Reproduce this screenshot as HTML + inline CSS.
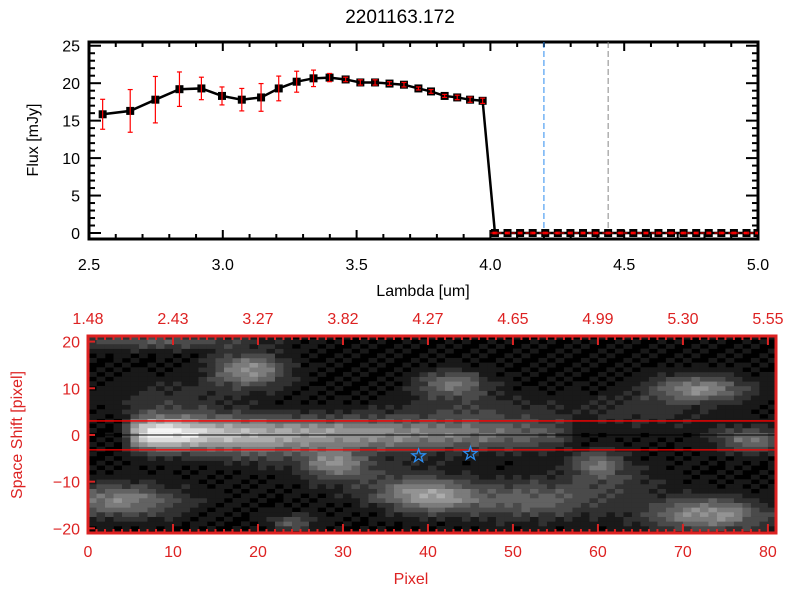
<!DOCTYPE html>
<html><head><meta charset="utf-8"><style>
body{margin:0;background:#fff;width:800px;height:600px;overflow:hidden}
svg{display:block;font-family:"Liberation Sans",sans-serif}
</style></head><body>
<svg id="c" width="800" height="600"></svg>
<script>
const lambdas=[2.551,2.654,2.748,2.838,2.92,2.997,3.071,3.143,3.209,3.276,3.339,3.399,3.459,3.514,3.569,3.623,3.677,3.731,3.778,3.829,3.876,3.924,3.971,4.017,4.064,4.111,4.158,4.205,4.252,4.299,4.346,4.393,4.44,4.487,4.534,4.581,4.628,4.675,4.722,4.769,4.816,4.863,4.910,4.957,4.998];
const flux=[15.85,16.3,17.8,19.2,19.3,18.3,17.8,18.1,19.3,20.2,20.65,20.75,20.5,20.1,20.1,19.95,19.8,19.3,18.9,18.3,18.1,17.8,17.65,0,0,0,0,0,0,0,0,0,0,0,0,0,0,0,0,0,0,0,0,0,0];
const fluxErr=[2.0,2.85,3.1,2.3,1.5,1.2,1.5,1.85,1.65,1.4,1.1,0.55,0.3,0.35,0.35,0.25,0.3,0.2,0.25,0.2,0.3,0.35,0.35,0.1,0.1,0.1,0.1,0.1,0.1,0.1,0.1,0.1,0.1,0.1,0.1,0.1,0.1,0.1,0.1,0.1,0.1,0.1,0.1,0.1,0.1];
const xTicks=[2.5,3.0,3.5,4.0,4.5,5.0];
const xTickLabels=["2.5","3.0","3.5","4.0","4.5","5.0"];
const yTicks=[0,5,10,15,20,25];
const vLines=[4.2,4.44];
const pixTicks=[0,10,20,30,40,50,60,70,80];
const topLamLabels=["1.48","2.43","3.27","3.82","4.27","4.65","4.99","5.30","5.55"];
const shiftTicks=[20,10,0,-10,-20];
const starsX=[38.9,45.0];
const starsY=[-4.5,-4.0];
const apertureY=[3,-3.2];
// trace brightness along x
const traceX=[4,5,7,9,12,15,20,25,30,35,40,45,50,55,58];
const traceAmp=[0,0.55,0.95,1.0,0.9,0.75,0.68,0.62,0.58,0.55,0.5,0.45,0.38,0.28,0];
// blobs
const blobX=[19,43,72,29,60,4,40,52,73,78,24,8,10,45,65,33,20,62];
const blobY=[14,11,10,-6,-6,-14,-13,-14,-17,-1,-19,20,8,6,5,-9,-4,-10];
const blobA=[0.55,0.42,0.5,0.45,0.4,0.5,0.55,0.35,0.55,0.42,0.28,0.3,0.15,0.15,0.15,0.15,0.15,0.15];
const blobSX=[3,3,4,2.5,2,5,4,6,5,3,2,8,6,6,6,6,4,5];
const blobSY=[2.5,2,2,2,2,2.5,2.5,3,2.5,2,1.5,1.2,3,2,3,3,2,3];

const S=document.getElementById('c');const NS='http://www.w3.org/2000/svg';
function mk(t,a,p){const e=document.createElementNS(NS,t);for(const k in a)e.setAttribute(k,a[k]);(p||S).appendChild(e);return e;}
function txt(s,x,y,a,p){const e=mk('text',Object.assign({x:x,y:y},a),p);e.textContent=s;return e;}
const L=89,R=758,T=42,B=239;const X0=2.5,X1=5.0,Y0=-0.8,Y1=25.5;
const sx=v=>L+(v-X0)/(X1-X0)*(R-L);const sy=v=>B-(v-Y0)/(Y1-Y0)*(B-T);
const topG=mk('g',{});


const ttl=txt('2201163.172',400,23,{'font-size':19,'text-anchor':'middle'});

const ax=mk('g',{stroke:'#000','stroke-width':2},topG);

for(let v=2.5;v<=5.0001;v+=0.1){const maj=Math.abs(v*2-Math.round(v*2))<1e-6;const l=maj?9:5;
mk('line',{x1:sx(v),x2:sx(v),y1:B,y2:B-l},ax);mk('line',{x1:sx(v),x2:sx(v),y1:T,y2:T+l},ax);}
for(let v=0;v<=25;v++){const maj=v%5==0;const l=maj?12:6;
mk('line',{x1:L,x2:L+l,y1:sy(v),y2:sy(v)},ax);mk('line',{x1:R,x2:R-l,y1:sy(v),y2:sy(v)},ax);}
mk('rect',{x:L,y:T,width:R-L,height:B-T,fill:'none','stroke-width':3},ax);
xTicks.forEach((v,i)=>{const e=txt(xTickLabels[i],sx(v),270,{'font-size':16,'text-anchor':'middle'},topG);});
yTicks.forEach(v=>{const e=txt(String(v),80,sy(v)+6,{'font-size':16,'text-anchor':'end'},topG);});
let e1=txt('Lambda [um]',423,296,{'font-size':16,'text-anchor':'middle'},topG);
let e2=txt('Flux [mJy]',38,140,{'font-size':16,'text-anchor':'middle',transform:'rotate(-90 38 140)'},topG);
const cl=mk('clipPath',{id:'cp'});mk('rect',{x:L,y:T,width:R-L,height:B-T-1.5},cl);
const pg=mk('g',{'clip-path':'url(#cp)'},topG);
vLines.forEach((v,i)=>{const e=mk('line',{x1:sx(v),x2:sx(v),y1:T,y2:B,stroke:i?'#888':'#2b8cf0','stroke-width':1,'stroke-dasharray':'6 3'},pg);});
const ln=mk('polyline',{points:lambdas.map((v,i)=>sx(v)+','+sy(flux[i])).join(' '),fill:'none',stroke:'#000','stroke-width':2.5},pg);

lambdas.forEach((v,i)=>{const m=mk('rect',{x:sx(v)-4,y:sy(flux[i])-4,width:8,height:8,fill:'#000'},pg);
const g=mk('g',{stroke:'#f00','stroke-width':1.2},pg);
const a=sy(flux[i]+fluxErr[i]),b=sy(flux[i]-fluxErr[i]);mk('line',{x1:sx(v),x2:sx(v),y1:a,y2:b},g);mk('line',{x1:sx(v)-2.5,x2:sx(v)+2.5,y1:a,y2:a},g);mk('line',{x1:sx(v)-2.5,x2:sx(v)+2.5,y1:b,y2:b},g);});
const zl=mk('line',{x1:sx(4.0),x2:R,y1:sy(0),y2:sy(0),stroke:'#f00','stroke-width':1,'stroke-dasharray':'4 3'},pg);

const L2=88,R2=776,T2=336,B2=533,P0=0,P1=80.95,S0=-21,S1=21.2;
const px=v=>L2+(v-P0)/(P1-P0)*(R2-L2);const py=v=>B2-(v-S0)/(S1-S0)*(B2-T2);
const bot=mk('g',{});
const img=mk('g',{},bot);
mk('rect',{x:L2,y:T2,width:R2-L2,height:B2-T2,fill:'#000'},img);
function traceAt(x){for(let i=0;i<traceX.length-1;i++){if(x>=traceX[i]&&x<=traceX[i+1]){const f=(x-traceX[i])/(traceX[i+1]-traceX[i]);return traceAmp[i]+f*(traceAmp[i+1]-traceAmp[i]);}}return 0;}
for(let c=0;c<81;c++)for(let r=-21;r<=21;r++){let v=(((c*7+r*13)%5+5)%5)*0.02;
const ta=traceAt(c+0.5);v+=ta*Math.exp(-((r-0.3)*(r-0.3))/(2*2.6*2.6));
for(let k=0;k<blobX.length;k++){const dx=(c+0.5-blobX[k])/blobSX[k],dy=(r-blobY[k])/blobSY[k];v+=blobA[k]*Math.exp(-(dx*dx+dy*dy)/2);}
v=Math.min(1,v);v=Math.round(v*10)/10;if(v<0.1)continue;const g=Math.round(v*245);
const x0=px(c),x1=px(c+1),y0=py(r+0.5),y1=py(r-0.5);const cell=mk('rect',{x:x0,y:Math.max(T2,y0),width:x1-x0+0.3,height:Math.min(B2,y1)-Math.max(T2,y0)+0.3,fill:`rgb(${g},${g},${g})`},img);
}
mk('line',{x1:L2,x2:R2,y1:py(0),y2:py(0),stroke:'#000','stroke-width':1},bot);
apertureY.forEach(v=>{const e=mk('line',{x1:L2,x2:R2,y1:py(v),y2:py(v),stroke:'#f00','stroke-width':1.3},bot);});
starsX.forEach((v,i)=>{const cx=px(v),cy=py(starsY[i]);let pts=[];for(let k=0;k<10;k++){const r=k%2?2.8:7,a=-Math.PI/2+k*Math.PI/5;pts.push((cx+r*Math.cos(a)).toFixed(1)+','+(cy+r*Math.sin(a)).toFixed(1));}
const s=mk('polygon',{points:pts.join(' '),fill:'none',stroke:'#2b8cf0','stroke-width':1.3},bot);});
const rx=mk('g',{stroke:'#d22','stroke-width':2},bot);
for(let v=0;v<=80;v++){const l=v%10==0?9:4;mk('line',{x1:px(v),x2:px(v),y1:B2,y2:B2-l},rx);mk('line',{x1:px(v),x2:px(v),y1:T2,y2:T2+l},rx);}
shiftTicks.forEach(v=>{mk('line',{x1:L2,x2:L2+7,y1:py(v),y2:py(v)},rx);});
mk('rect',{x:L2,y:T2,width:R2-L2,height:B2-T2,fill:'none','stroke-width':3},rx);
pixTicks.forEach((v,i)=>{const a=txt(String(v),px(v),557,{'font-size':16,'text-anchor':'middle',fill:'#d22'},bot);
const b=txt(topLamLabels[i],px(v),324,{'font-size':16,'text-anchor':'middle',fill:'#d22'},bot);});
shiftTicks.forEach(v=>{const a=txt(v<0?'\u2212'+(-v):String(v),80,py(v)+6,{'font-size':16,'text-anchor':'end',fill:'#d22'},bot);});
let e3=txt('Pixel',411,584,{'font-size':16,'text-anchor':'middle',fill:'#d22'},bot);
let e4=txt('Space Shift [pixel]',22,435,{'font-size':16,'text-anchor':'middle',fill:'#d22',transform:'rotate(-90 22 435)'},bot);
</script>
</body></html>
